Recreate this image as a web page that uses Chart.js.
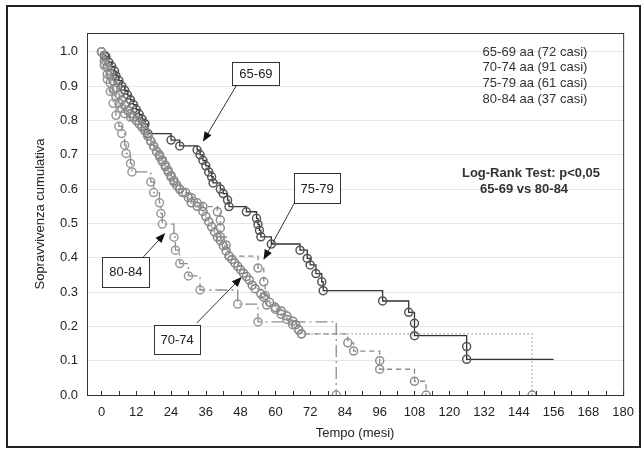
<!DOCTYPE html>
<html lang="it">
<head>
<meta charset="UTF-8">
<title>Sopravvivenza cumulativa</title>
<script src="https://cdn.jsdelivr.net/npm/chart.js"></script>
<style>
    body { margin: 0; background: #fff; }
    canvas { display: block; }
</style>
</head>
<body>
<canvas id="kmChart" width="644" height="450"></canvas>
<script>
// assi
const xTicks = [0, 12, 24, 36, 48, 60, 72, 84, 96, 108, 120, 132, 144, 156, 168, 180];
const yTicks = [0, 0.1, 0.2, 0.3, 0.4, 0.5, 0.6, 0.7, 0.8, 0.9, 1.0];

// 65-69 aa (72 casi)
const t6569 = [0, 1, 1.5, 2.5, 3.5, 4.5, 5, 6, 7, 8, 9, 10, 11, 12, 13, 14, 15, 16, 24, 27, 33, 34, 35, 36, 37, 38, 38.5, 41, 42, 43.5, 44, 50, 53.5, 54, 54.5, 55, 58.6, 68.5, 71, 72, 74, 76, 76.5, 97, 106, 108, 108, 126, 126, 156];
const s6569 = [1.0, 0.99, 0.986, 0.97, 0.958, 0.944, 0.93, 0.916, 0.9, 0.888, 0.874, 0.86, 0.846, 0.832, 0.818, 0.804, 0.79, 0.762, 0.743, 0.726, 0.714, 0.70, 0.684, 0.668, 0.65, 0.636, 0.618, 0.60, 0.587, 0.568, 0.549, 0.534, 0.515, 0.497, 0.48, 0.461, 0.44, 0.422, 0.398, 0.379, 0.354, 0.33, 0.304, 0.274, 0.241, 0.209, 0.173, 0.141, 0.104, 0.104];

// 70-74 aa (91 casi)
const t7074 = [0, 1, 2, 3, 4, 5, 6, 7, 8, 9, 10, 11, 12, 13, 14, 15, 16, 17, 18, 19, 20, 21, 22, 23, 24, 25, 26, 27, 28, 30, 31, 33, 35, 36, 37, 38, 39, 40, 41, 42, 43, 44, 45, 46, 47, 48, 49, 50, 51, 52, 53, 55, 56, 58, 60, 62, 64, 66, 67, 68, 69, 148.6];
const s7074 = [1.0, 0.975, 0.955, 0.935, 0.915, 0.895, 0.875, 0.86, 0.845, 0.83, 0.82, 0.81, 0.80, 0.79, 0.78, 0.77, 0.755, 0.74, 0.725, 0.71, 0.70, 0.685, 0.67, 0.655, 0.64, 0.625, 0.61, 0.60, 0.59, 0.575, 0.56, 0.55, 0.535, 0.52, 0.505, 0.49, 0.475, 0.46, 0.45, 0.435, 0.42, 0.405, 0.395, 0.385, 0.375, 0.365, 0.355, 0.345, 0.335, 0.32, 0.31, 0.295, 0.285, 0.27, 0.255, 0.245, 0.23, 0.215, 0.205, 0.19, 0.178, 0];

// 75-79 aa (61 casi)
const t7579 = [0, 1, 2, 3, 4, 5, 6, 7, 8, 10, 12, 14, 15, 16, 17, 18, 19, 20, 21, 22, 23, 24, 25, 27, 29, 31, 33, 35, 40, 41, 41, 41, 43, 44, 54, 56, 56.5, 57, 60, 62, 64, 66, 68, 69, 85, 87, 96, 96, 108, 112];
const s7579 = [1.0, 0.965, 0.935, 0.91, 0.89, 0.87, 0.85, 0.835, 0.82, 0.81, 0.80, 0.785, 0.77, 0.755, 0.74, 0.725, 0.71, 0.695, 0.68, 0.665, 0.65, 0.635, 0.62, 0.60, 0.59, 0.575, 0.56, 0.549, 0.534, 0.51, 0.487, 0.461, 0.437, 0.405, 0.37, 0.33, 0.29, 0.262, 0.25, 0.235, 0.22, 0.205, 0.19, 0.178, 0.152, 0.128, 0.10, 0.075, 0.04, 0];

// 80-84 aa (37 casi)
const t8084 = [0, 1, 2, 3, 4, 5, 6, 7, 8, 8.5, 10, 10.5, 17, 18, 20, 20.5, 21, 25, 25.5, 27, 30, 34, 47, 54, 81];
const s8084 = [1.0, 0.96, 0.92, 0.885, 0.85, 0.815, 0.783, 0.762, 0.728, 0.704, 0.675, 0.65, 0.621, 0.59, 0.56, 0.529, 0.498, 0.46, 0.422, 0.383, 0.347, 0.306, 0.265, 0.213, 0];

const legendLines = ['65-69 aa (72 casi)', '70-74 aa (91 casi)', '75-79 aa (61 casi)', '80-84 aa (37 casi)'];

// riquadri con freccia: centro (mesi, sopravvivenza), coda e punta della freccia
const callouts = [
    { text: '65-69', cx: 53.3, cy: 0.937, w: 47, h: 23, tail: [46.7, 0.904], tip: [35, 0.738] },
    { text: '75-79', cx: 74.4, cy: 0.603, w: 46, h: 30, tail: [66.6, 0.56], tip: [55.9, 0.394] },
    { text: '80-84', cx: 8.4, cy: 0.359, w: 47, h: 30, tail: [14.4, 0.402], tip: [22, 0.472] },
    { text: '70-74', cx: 26.1, cy: 0.162, w: 46, h: 29, tail: [32.9, 0.21], tip: [48.4, 0.344] }
];

const FONT = "'Liberation Sans', Arial, sans-serif";

function toPoints(t, s) {
    return t.map((v, i) => ({ x: v, y: s[i] }));
}

function kmDataset(label, t, s, lineColor, pointColor, dash, hideLast) {
    return {
        label: label,
        data: toPoints(t, s),
        stepped: true,
        borderColor: lineColor,
        borderWidth: 1.3,
        borderDash: dash,
        pointStyle: 'circle',
        pointRadius: ctx => (hideLast && ctx.dataIndex === t.length - 1) ? 0 : 4,
        pointBorderWidth: 1.5,
        pointBorderColor: pointColor,
        pointBackgroundColor: 'rgba(255,255,255,0)',
        fill: false
    };
}

const extras = {
    id: 'extras',
    afterDraw(chart) {
        const ctx = chart.ctx;
        const a = chart.chartArea;
        const xs = chart.scales.x, ys = chart.scales.y;
        ctx.save();

        // cornice del grafico
        ctx.strokeStyle = '#333';
        ctx.lineWidth = 1;
        ctx.strokeRect(a.left + 0.5, a.top + 0.5, a.right - a.left, a.bottom - a.top);

        // tacche interne ogni 6 mesi
        ctx.beginPath();
        for (let m = 0; m <= 180; m += 6) {
            const px = Math.round(xs.getPixelForValue(m)) + 0.5;
            ctx.moveTo(px, a.bottom);
            ctx.lineTo(px, a.bottom - 4);
        }
        ctx.stroke();

        // testo in alto a destra
        ctx.fillStyle = '#333';
        ctx.textAlign = 'center';
        ctx.textBaseline = 'middle';
        ctx.font = '13px ' + FONT;
        legendLines.forEach((l, i) => ctx.fillText(l, 535, 52 + i * 15.7));
        ctx.font = 'bold 13px ' + FONT;
        ctx.fillText('Log-Rank Test: p<0,05', 531, 173);
        ctx.fillText('65-69 vs 80-84', 524, 189);

        // riquadri e frecce
        ctx.font = '13px ' + FONT;
        callouts.forEach(c => {
            const cx = xs.getPixelForValue(c.cx), cy = ys.getPixelForValue(c.cy);
            const x1 = xs.getPixelForValue(c.tail[0]), y1 = ys.getPixelForValue(c.tail[1]);
            const x2 = xs.getPixelForValue(c.tip[0]), y2 = ys.getPixelForValue(c.tip[1]);
            const ang = Math.atan2(y2 - y1, x2 - x1);
            ctx.strokeStyle = '#333';
            ctx.lineWidth = 1;
            ctx.beginPath();
            ctx.moveTo(x1, y1);
            ctx.lineTo(x2 - 8 * Math.cos(ang), y2 - 8 * Math.sin(ang));
            ctx.stroke();
            ctx.fillStyle = '#111';
            ctx.beginPath();
            ctx.moveTo(x2, y2);
            ctx.lineTo(x2 - 10 * Math.cos(ang) + 4 * Math.sin(ang), y2 - 10 * Math.sin(ang) - 4 * Math.cos(ang));
            ctx.lineTo(x2 - 10 * Math.cos(ang) - 4 * Math.sin(ang), y2 - 10 * Math.sin(ang) + 4 * Math.cos(ang));
            ctx.closePath();
            ctx.fill();

            ctx.fillStyle = '#fff';
            ctx.fillRect(cx - c.w / 2, cy - c.h / 2, c.w, c.h);
            ctx.strokeStyle = '#333';
            ctx.strokeRect(Math.round(cx - c.w / 2) + 0.5, Math.round(cy - c.h / 2) + 0.5, c.w, c.h);
            ctx.fillStyle = '#222';
            ctx.fillText(c.text, cx, cy + 1);
        });

        // bordo esterno
        ctx.strokeStyle = '#222';
        ctx.lineWidth = 2;
        ctx.strokeRect(7, 6, 633, 441);
        ctx.restore();
    }
};

new Chart(document.getElementById('kmChart').getContext('2d'), {
    type: 'line',
    data: {
        datasets: [
            kmDataset('80-84', t8084, s8084, '#8c8c8c', '#9a9a9a', [12, 4, 2, 4], false),
            kmDataset('75-79', t7579, s7579, '#8a8a8a', '#8e8e8e', [5, 4], false),
            kmDataset('70-74', t7074, s7074, '#a0a0a0', '#858585', [1.5, 2.5], false),
            kmDataset('65-69', t6569, s6569, '#333', '#555', [], true)
        ]
    },
    options: {
        responsive: false,
        animation: false,
        devicePixelRatio: 1,
        layout: { padding: { left: 20, right: 16, top: 33, bottom: 0 } },
        plugins: {
            legend: { display: false },
            tooltip: { enabled: false }
        },
        scales: {
            x: {
                type: 'linear',
                min: -5,
                max: 180,
                afterBuildTicks: s => { s.ticks = xTicks.map(v => ({ value: v })); },
                afterFit: s => { s.height = 55; },
                grid: { display: false, drawTicks: false },
                border: { display: false },
                ticks: { color: '#222', font: { family: FONT, size: 13 }, padding: 10, maxRotation: 0 },
                title: { display: true, text: 'Tempo (mesi)', color: '#222', font: { family: FONT, size: 13 }, padding: { top: 0, bottom: 9 } }
            },
            y: {
                min: 0,
                max: 1.055,
                afterBuildTicks: s => { s.ticks = yTicks.map(v => ({ value: v })); },
                afterFit: s => { s.width = 67; },
                grid: { color: '#e6e6e6', drawTicks: false },
                border: { display: false },
                ticks: { color: '#222', font: { family: FONT, size: 13 }, padding: 9, callback: v => v.toFixed(1) },
                title: { display: true, text: 'Sopravvivenza cumulativa', color: '#222', font: { family: FONT, size: 13 }, padding: { top: 13, bottom: 0 } }
            }
        }
    },
    plugins: [extras]
});
</script>
</body>
</html>
